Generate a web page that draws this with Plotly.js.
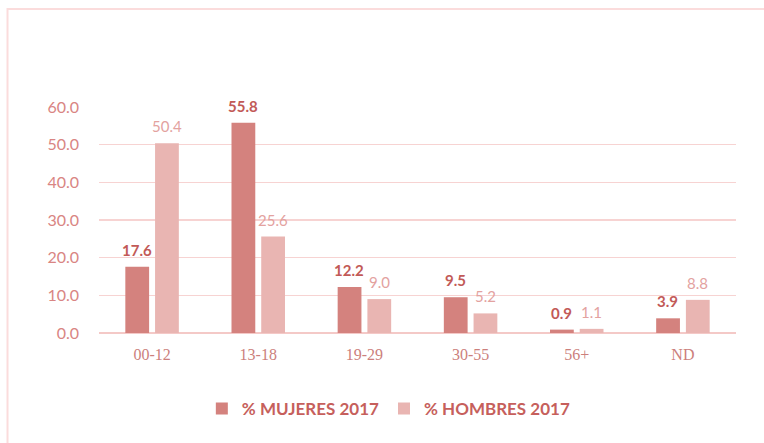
<!DOCTYPE html>
<html>
<head>
<meta charset="utf-8">
<script src="https://cdn.plot.ly/plotly-3.0.1.min.js"></script>
<style>html,body{margin:0;padding:0;background:#fff;}#chart{width:764px;height:443px;}</style>
</head>
<body>
<div id="chart"></div>
<script>
const categories = ["00-12", "13-18", "19-29", "30-55", "56+", "ND"];
const mujeres2017 = [17.6, 55.8, 12.2, 9.5, 0.9, 3.9];
const hombres2017 = [50.4, 25.6, 9.0, 5.2, 1.1, 8.8];
const seriesNames = ["% MUJERES 2017", "% HOMBRES 2017"];
const yTicks = [0, 10, 20, 30, 40, 50, 60];

const colMuj = "#d4827e";
const colHom = "#e9b5b2";

const traces = [
  {type: "bar", name: seriesNames[0], x: categories, y: mujeres2017,
   marker: {color: colMuj}, hoverinfo: "none"},
  {type: "bar", name: seriesNames[1], x: categories, y: hombres2017,
   marker: {color: colHom}, hoverinfo: "none"}
];

const annotations = [];
categories.forEach((c, i) => {
  annotations.push({x: c, y: mujeres2017[i], xref: "x", yref: "y",
    text: mujeres2017[i].toFixed(1), showarrow: false, xshift: -15,
    yanchor: "bottom", yshift: 6,
    font: {family: "Lato, 'Open Sans', sans-serif", size: 15, color: "#c25a57", weight: "bold"}});
  annotations.push({x: c, y: hombres2017[i], xref: "x", yref: "y",
    text: hombres2017[i].toFixed(1), showarrow: false, xshift: 15,
    yanchor: "bottom", yshift: 6,
    font: {family: "Lato, 'Open Sans', sans-serif", size: 15, color: "#e3a29f"}});
});

const layout = {
  width: 764, height: 443,
  margin: {l: 99, r: 28, t: 107, b: 110, pad: 0},
  paper_bgcolor: "#ffffff", plot_bgcolor: "#ffffff",
  barmode: "group", bargap: 0.44, bargroupgap: 0.2,
  showlegend: true,
  legend: {orientation: "h", x: 0.455, xanchor: "center", y: -0.336, yanchor: "middle",
    font: {family: "Lato, 'Open Sans', sans-serif", size: 17, color: "#c65f5c", weight: "bold"},
    itemwidth: 30, traceorder: "normal"},
  xaxis: {type: "category", showgrid: false, zeroline: false, showline: false,
    ticks: "", ticklabelstandoff: 10,
    tickfont: {family: "'Liberation Serif', 'DejaVu Serif', serif", size: 16, color: "#cc7f7c"}},
  yaxis: {range: [0, 60], tickvals: yTicks, tickformat: ".1f",
    showgrid: true, gridcolor: "#f7d3d2", gridwidth: 1.5,
    zeroline: true, zerolinecolor: "#f4c9c7", zerolinewidth: 1.5,
    showline: false, ticks: "", ticklabelstandoff: 19,
    tickfont: {family: "Lato, 'Open Sans', sans-serif", size: 16, color: "#d98583"}},
  annotations: annotations,
  shapes: [
    {type: "rect", xref: "paper", yref: "paper", x0: -0.1436, x1: 1.3, y0: -0.7, y1: 1.4336,
     line: {color: "#fbdcdc", width: 2}, fillcolor: "rgba(0,0,0,0)", layer: "below"}
  ]
};

Plotly.newPlot("chart", traces, layout, {displayModeBar: false, staticPlot: true});
</script>
</body>
</html>
